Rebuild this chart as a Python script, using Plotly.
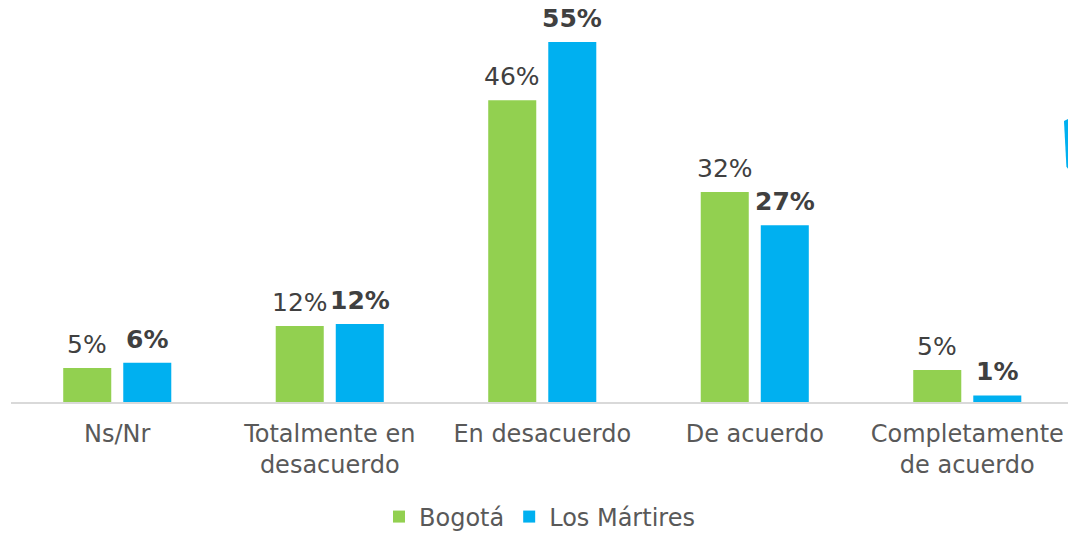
import plotly.graph_objects as go

# Survey responses by category (percent)
categories = ["Ns/Nr", "Totalmente en desacuerdo", "En desacuerdo", "De acuerdo",
              "Completamente de acuerdo"]
tick_labels = ["Ns/Nr", "Totalmente en<br>desacuerdo", "En desacuerdo", "De acuerdo",
               "Completamente<br>de acuerdo"]
bogota = [5.2, 11.6, 46.1, 32.1, 4.9]
martires = [6.0, 11.9, 55.0, 27.0, 1.0]
series_names = ["Bogotá", "Los Mártires"]

GREEN = "#92D050"
BLUE = "#00B0F0"
FONT = "DejaVu Sans, Verdana, sans-serif"

fig = go.Figure()
fig.add_trace(go.Bar(x=categories, y=bogota, name=series_names[0],
                     marker=dict(color=GREEN, line=dict(width=0))))
fig.add_trace(go.Bar(x=categories, y=martires, name=series_names[1],
                     marker=dict(color=BLUE, line=dict(width=0))))

# Value labels above each bar
annotations = []
for vals, shift, weight in [(bogota, -30, "normal"), (martires, 30, "bold")]:
    for cat, v in zip(categories, vals):
        txt = f"{v:.0f}%"
        if weight == "bold":
            txt = f"<b>{txt}</b>"
        annotations.append(dict(x=cat, y=v, xref="x", yref="y", text=txt,
                                showarrow=False, yanchor="bottom", xanchor="center",
                                xshift=shift, yshift=7,
                                font=dict(family=FONT, size=25, color="#404040")))

fig.update_layout(
    width=1068, height=533,
    margin=dict(l=11, r=0, t=0, b=131, autoexpand=False),
    paper_bgcolor="white", plot_bgcolor="white",
    barmode="group", bargap=0.435, bargroupgap=0.2,
    font=dict(family=FONT, size=24, color="#595959"),
    showlegend=True,
    legend=dict(orientation="h", x=0.5, xanchor="center", y=-0.286, yanchor="middle",
                font=dict(family=FONT, size=24, color="#595959"),
                itemwidth=30, traceorder="normal"),
    annotations=annotations,
    shapes=[dict(type="path", xref="paper", yref="paper",
                 path="M 0.9962 0.699 L 1.0 0.704 L 1.0 0.58 L 0.9985 0.585 Z",
                 fillcolor=BLUE, line=dict(width=0))],
)
fig.update_xaxes(type="category", range=[-0.5, 4.474],
                 tickvals=categories, ticktext=tick_labels,
                 showline=True, linecolor="#D9D9D9", linewidth=2,
                 showgrid=False, ticks="", ticklabelstandoff=9,
                 tickfont=dict(family=FONT, size=24, color="#595959"))
fig.update_yaxes(range=[0, 402 / 6.545], visible=False, showgrid=False,
                 zeroline=False)

fig.write_html("out.html")
